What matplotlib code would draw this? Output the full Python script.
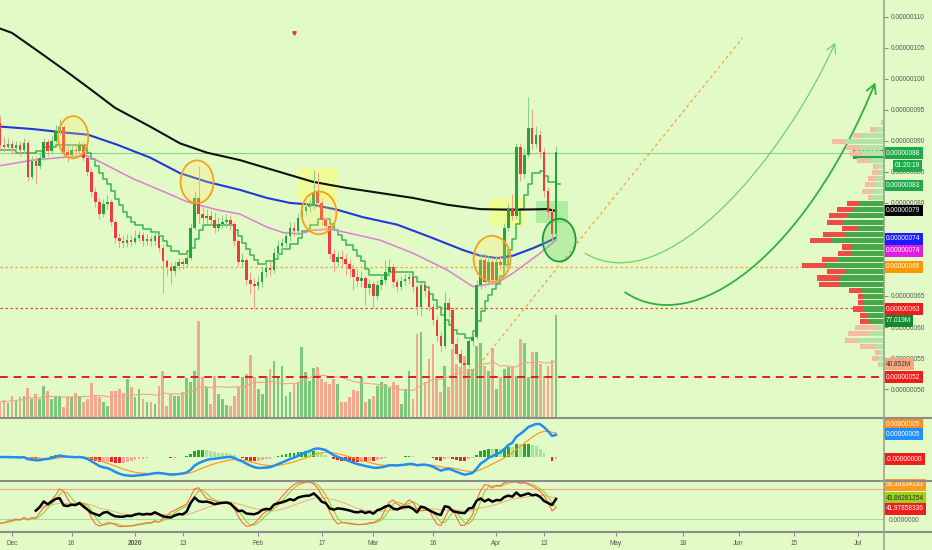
import matplotlib
matplotlib.use("Agg")
import matplotlib.pyplot as plt
import matplotlib.dates as mdates
from matplotlib.patches import Ellipse, Rectangle, FancyArrowPatch
from matplotlib.path import Path
from matplotlib.lines import Line2D
from matplotlib.ticker import FuncFormatter
from matplotlib.transforms import blended_transform_factory
import numpy as np
import pandas as pd

plt.rcParams['font.family'] = ['Liberation Sans', 'DejaVu Sans']

BG = '#e2fbc6'

# ---------------- data (prices in satoshi, 1e-8 BTC) ----------------
first_day = '2019-11-28'
first_open = 92.9
closes = [89.4, 89.0, 89.5,
          88.8, 89.3, 88.6, 89.6, 84.2, 86.8, 86.0, 87.3, 89.8, 88.4,
          90.0, 91.6, 92.2, 88.2, 87.7, 88.5, 88.3, 89.4, 87.3, 85.0,
          81.8, 80.2, 78.2, 79.8, 80.2, 77.0, 74.3, 73.8, 73.6, 74.1,
          73.7, 74.4, 74.8, 73.9, 74.2, 73.8, 74.6, 72.8, 70.6, 69.6,
          69.0, 69.8, 70.4, 70.1, 71.2, 76.0, 80.8, 78.2, 77.6, 77.9,
          77.2, 76.0, 76.6, 77.0, 77.3, 76.6, 73.8, 70.5, 70.8, 67.6,
          67.0, 66.6, 67.3, 68.9, 69.5, 69.2, 72.0, 73.0, 73.6, 74.6,
          76.0, 75.4, 77.6, 78.7, 79.3, 79.6, 81.8, 80.0, 77.2, 76.2,
          71.8, 70.4, 71.3, 70.9, 70.2, 69.3, 68.0, 67.4, 67.9, 66.3,
          66.9, 65.0, 66.8, 67.5, 68.9, 69.6, 67.2, 66.4, 67.4, 67.8,
          68.0, 66.4, 63.2, 66.8, 65.8, 63.3, 61.2, 58.6, 57.0, 63.8,
          62.8, 57.2, 55.6, 54.2, 53.8, 57.8, 58.4, 66.8, 70.8, 67.2,
          70.5, 67.6, 70.4, 70.0, 76.0, 79.2, 77.9, 89.0, 84.6, 87.8,
          92.0, 89.5, 91.0, 88.2, 82.0, 78.6, 75.0, 88.2]
highs = [94.0, 90.6, 90.4,
         90.2, 90.0, 89.9, 90.5, 90.2, 87.6, 87.5, 88.2, 90.4, 90.3,
         90.8, 92.5, 93.6, 92.6, 89.2, 89.3, 89.4, 90.0, 89.8, 87.9,
         85.6, 82.6, 80.8, 80.6, 81.3, 80.7, 77.4, 75.2, 74.8, 75.0,
         74.9, 75.6, 75.5, 75.3, 75.0, 74.9, 75.3, 75.0, 73.3, 71.0,
         70.4, 70.6, 71.2, 71.0, 72.0, 76.8, 82.0, 86.0, 79.4, 79.0,
         78.8, 78.6, 77.8, 78.0, 78.2, 78.0, 76.9, 74.2, 72.0, 71.2,
         68.8, 67.9, 68.2, 69.6, 70.4, 70.6, 72.8, 74.0, 74.4, 75.4,
         76.9, 77.0, 78.4, 79.8, 80.2, 80.6, 85.3, 85.0, 80.6, 77.8,
         76.6, 72.6, 72.2, 72.4, 71.8, 71.0, 70.0, 69.4, 69.0, 68.4,
         67.8, 67.4, 67.6, 68.6, 70.8, 71.0, 70.2, 67.8, 68.2, 68.6,
         69.0, 68.4, 66.9, 67.3, 67.2, 66.2, 63.8, 61.8, 59.3, 65.6,
         64.6, 63.2, 58.4, 56.4, 55.0, 58.6, 59.4, 67.6, 71.8, 72.0,
         71.4, 71.0, 71.6, 71.5, 76.8, 80.0, 81.4, 89.6, 89.6, 88.8,
         97.1, 95.2, 92.4, 91.8, 88.8, 82.6, 79.2, 89.2]
lows = [88.8, 88.2, 88.5,
        87.9, 88.3, 87.6, 88.0, 83.5, 83.9, 83.0, 85.4, 86.9, 87.5,
        87.9, 89.6, 91.0, 87.4, 86.6, 87.1, 87.5, 87.9, 86.8, 84.3,
        81.0, 79.3, 77.4, 77.7, 79.0, 76.2, 73.6, 72.8, 72.7, 72.9,
        73.0, 73.3, 73.8, 73.1, 73.2, 73.0, 73.2, 72.2, 65.5, 68.2,
        67.0, 68.4, 69.2, 69.4, 69.7, 70.8, 75.6, 76.8, 76.4, 76.8,
        76.4, 75.2, 75.4, 75.9, 76.1, 75.6, 73.0, 69.8, 69.6, 66.8,
        65.4, 63.0, 65.9, 66.5, 68.0, 68.3, 68.7, 71.2, 72.3, 72.9,
        73.9, 74.6, 74.9, 77.0, 78.1, 78.6, 79.0, 79.4, 76.5, 75.3,
        71.0, 68.8, 69.8, 69.6, 68.4, 68.0, 66.0, 66.6, 66.5, 63.6,
        65.4, 63.2, 64.4, 66.0, 67.0, 68.3, 66.5, 65.6, 65.9, 66.8,
        67.0, 65.7, 62.0, 61.8, 64.9, 62.6, 60.4, 57.8, 56.0, 56.6,
        61.6, 56.4, 54.8, 53.2, 52.3, 53.4, 57.0, 58.0, 66.2, 66.4,
        66.8, 66.9, 67.2, 69.2, 69.6, 75.4, 77.2, 77.4, 83.6, 84.0,
        87.4, 88.6, 88.8, 87.2, 81.0, 77.4, 74.0, 74.4]
volumes = [15, 17, 14,
           21, 16, 20, 21, 29, 18, 23, 18, 31, 26,
           18, 21, 20, 10, 20, 20, 24, 21, 15, 18,
           34, 22, 20, 15, 11, 26, 26, 28, 24, 38,
           30, 20, 28, 18, 15, 15, 13, 31, 46, 11,
           23, 21, 21, 25, 39, 35, 46, 96, 40, 30,
           13, 41, 23, 18, 12, 11, 21, 30, 40, 43,
           62, 40, 28, 23, 41, 48, 56, 41, 51, 21,
           25, 33, 35, 70, 45, 36, 49, 50, 38, 35,
           33, 38, 33, 15, 15, 20, 27, 26, 40, 15,
           18, 21, 31, 35, 33, 29, 35, 32, 13, 28,
           46, 18, 83, 85,
           35, 58, 73, 38, 25, 51, 30, 68, 53, 50,
           61, 48, 48, 71, 74, 51, 46, 69, 28, 40,
           48, 50, 51, 41, 78, 74, 40, 65, 65, 53,
           41, 51, 57, 102]

# moving averages (day offset from 2019-12-01, price)
ma200_days = [-3, 0, 5.8, 13.9, 19.6, 26, 34.8, 42.3, 49.1, 57.4, 64.2, 70, 75.8,
              84.4, 92.7, 101, 109.6, 117.9, 126.2, 134.8, 137]
ma200_vals = [108.1, 107.4, 104.8, 101.1, 98.4, 95.3, 92.3, 89.6, 88.1, 86.9, 85.6,
              84.5, 83.4, 82.4, 81.6, 80.8, 79.7, 79.0, 78.9, 79.0, 78.7]
blue_days = [-3, 5.3, 13.9, 19.1, 26.4, 34.8, 42.3, 49.1, 57.4, 64.2, 70, 75.8, 81.9,
             88.4, 97, 105.3, 113.6, 117.9, 122.2, 126.2, 131.2, 134.8, 137]
blue_vals = [92.3, 91.9, 91.3, 91.0, 89.4, 87.3, 84.8, 83.4, 82.1, 80.8, 80.0, 79.7,
             78.9, 77.7, 76.5, 74.5, 72.4, 71.5, 71.1, 71.5, 72.7, 73.7, 74.4]
pink_days = [-3, 5.3, 13.9, 18.9, 22.2, 30.5, 39, 44, 51.6, 57.4, 64.2, 68.3, 72.5,
             75.8, 80.1, 84.4, 92.7, 101, 109.6, 116.1, 122.2, 126.2, 133, 137]
pink_vals = [86.0, 86.9, 87.4, 87.6, 86.6, 83.9, 81.6, 80.2, 78.9, 78.2, 76.1, 75.2,
             75.0, 75.6, 75.8, 75.2, 74.0, 71.9, 69.2, 66.5, 67.1, 68.7, 71.9, 74.0]
# green trailing step line
step_days = [-3, 1, 6, 8, 11, 19, 20, 21, 22, 23, 24, 25, 26, 27, 28, 29, 30, 31, 33,
             35, 37, 38, 39, 40, 42, 44, 45, 46, 47, 48, 56, 57, 58, 59, 60, 61, 62,
             64, 66, 67, 68, 70, 72, 73, 75, 77, 80, 81, 82, 83, 84, 86, 87, 88, 89,
             90, 95, 101, 102, 104, 105, 106, 107, 108, 109, 110, 111, 112, 114, 116,
             117, 118, 119, 120, 121, 122, 123, 124, 125, 126, 127, 128, 129, 130,
             131, 133, 134, 135, 137, 138]
step_vals = [88.6, 88.0, 88.4, 89.0, 89.4, 88.0, 87.0, 86.0, 84.8, 83.8, 83.0, 82.0,
             80.6, 79.6, 78.6, 77.8, 77.0, 76.4, 75.8, 75.3, 74.6, 73.8, 73.0, 72.3,
             71.8, 72.2, 72.8, 74.2, 75.6, 76.4, 75.6, 74.6, 73.6, 72.6, 71.6, 70.8,
             70.2, 70.6, 71.0, 71.8, 72.6, 73.4, 74.4, 75.4, 76.4, 77.4, 76.6, 75.6,
             74.8, 74.0, 73.2, 72.4, 71.4, 70.6, 69.4, 68.4, 68.8, 68.0, 67.2, 66.4,
             65.4, 64.4, 63.2, 62.0, 61.2, 60.4, 59.6, 58.8, 58.2, 59.4, 61.0, 62.6,
             64.2, 65.2, 66.2, 67.0, 68.2, 70.0, 72.4, 74.2, 76.6, 79.0, 81.2, 83.0,
             84.8, 85.2, 84.4, 83.4, 83.0, 83.0]

# volume profile (row price, total, up part)
prof_prices = [53.9 + i for i in range(40)]
prof_total = [6, 12, 9, 24, 39, 36, 29, 24, 24, 31, 26, 26, 35, 65, 67, 57, 82, 62, 46,
              42, 74, 61, 42, 57, 55, 47, 37, 16, 22, 19, 16, 12, 11, 27, 34, 38, 52,
              31, 14, 3]
prof_up = [4, 6, 5, 9, 26, 14, 6, 14, 16, 21, 20, 20, 22, 45, 44, 38, 58, 46, 32, 32,
           52, 39, 26, 41, 37, 31, 24, 12, 12, 9, 9, 4, 6, 14, 22, 24, 39, 22, 9, 2]
value_area = (60.5, 80.4)

# horizontal levels
last_price = 88.0
level_orange = 69.6
level_red_dot = 63.0
level_red_dash = 51.9

x_tick_dates = ['2019-12-01', '2019-12-16', '2020-01-01', '2020-01-13', '2020-02-01',
                '2020-02-17', '2020-03-01', '2020-03-16', '2020-04-01', '2020-04-13',
                '2020-05-01', '2020-05-18', '2020-06-01', '2020-06-15', '2020-07-01']
x_tick_labels = ['Dec', '16', '2020', '13', 'Feb', '17', 'Mar', '16', 'Apr', '13',
                 'May', '18', 'Jun', '15', 'Jul']
hidden_price_ticks = (70, 75)

# ---------------- derived ----------------
n = len(closes)
opens = [first_open] + closes[:-1]
dates = pd.date_range(first_day, periods=n, freq='D')
xd = mdates.date2num(dates)
base = mdates.date2num(pd.Timestamp('2019-12-01'))
o = np.array(opens); c = np.array(closes); h = np.array(highs); l = np.array(lows)
up = c >= o

s = pd.Series(closes)
ema12 = s.ewm(span=12, adjust=False).mean()
ema26 = s.ewm(span=26, adjust=False).mean()
macd = ema12 - ema26
sig = macd.ewm(span=9, adjust=False).mean()
hist = (macd - sig).values

delta = s.diff().fillna(0)
au = delta.clip(lower=0).ewm(alpha=1/14, adjust=False).mean()
ad = (-delta.clip(upper=0)).ewm(alpha=1/14, adjust=False).mean()
rsi = 100 - 100 / (1 + au / ad.replace(0, np.nan))
rsi.iloc[:9] = np.nan          # warm-up period not shown
hh = pd.Series(highs).rolling(14, min_periods=1).max()
ll = pd.Series(lows).rolling(14, min_periods=1).min()
k_raw = 100 * (s - ll) / (hh - ll)
k_s = k_raw.rolling(3, min_periods=1).mean()
d_s = k_s.rolling(3, min_periods=1).mean()
rsi_ma = rsi.rolling(10, min_periods=1).mean()

# ---------------- figure ----------------
W, H = 932, 550
fig = plt.figure(figsize=(W / 100, H / 100), dpi=100, facecolor=BG)


def rect(x0, y0, x1, y1):
    return [x0 / W, 1 - y1 / H, (x1 - x0) / W, (y1 - y0) / H]


ax_vol = fig.add_axes(rect(0, 0, 884, 417), facecolor='none')
ax = fig.add_axes(rect(0, 0, 884, 417), facecolor='none', sharex=ax_vol)
ax_prof = fig.add_axes(rect(700, 0, 884, 417), facecolor='none', sharey=ax)
ax_m = fig.add_axes(rect(0, 419, 884, 480), facecolor='none', sharex=ax_vol)
ax_s = fig.add_axes(rect(0, 482, 884, 532), facecolor='none', sharex=ax_vol)

xmin, xmax = base - 3.02, base + 219.6
for a in (ax_vol, ax, ax_m, ax_s):
    for sp in a.spines.values():
        sp.set_visible(False)
ax_vol.set_xlim(xmin, xmax)

# volume
vol_col = np.where(up, '#7dc97a', '#f2a78f')
ax_vol.bar(xd, volumes, width=0.7, color=vol_col, linewidth=0)
ax_vol.plot(xd, pd.Series(volumes).rolling(20, min_periods=1).mean(), color='#f0a585', lw=0.8)
ax_vol.set_ylim(0, 417)
ax_vol.set_yticks([]); ax_vol.tick_params(axis='x', bottom=False, labelbottom=False)

# main price pane
ax.set_ylim(45.5, 112.7)
ax.axhline(last_price, color='#86d886', lw=0.8, zorder=1)
ax.axhline(level_orange, color='#f3a43a', lw=0.9, ls=(0, (2, 2)), zorder=1)
ax.axhline(level_red_dot, color='#e84a3a', lw=0.9, ls=(0, (2, 2)), zorder=1)
ax.axhline(level_red_dash, color='#e11d1d', lw=1.4, ls=(0, (4, 3)), zorder=1)

# rectangles
ax.add_patch(Rectangle((base + 72.0, 80.5), 10.1, 5.1, fc='#ffff5a', alpha=0.45, ec='none', zorder=1))
ax.add_patch(Rectangle((base + 120.2, 76.3), 9.3, 4.5, fc='#ffff5a', alpha=0.45, ec='none', zorder=1))
ax.add_patch(Rectangle((base + 132.0, 76.8), 8.0, 3.5, fc='#7ee07e', alpha=0.5, ec='none', zorder=1))

ax.plot(base + np.array(step_days), step_vals, drawstyle='steps-post', color='#3cb64a', lw=1.1, zorder=2)
ax.plot(base + np.array(ma200_days), ma200_vals, color='#111111', lw=1.5, zorder=3)
ax.plot(base + np.array(blue_days), blue_vals, color='#1f3ad8', lw=1.5, zorder=3)
ax.plot(base + np.array(pink_days), pink_vals, color='#d97fd2', lw=1.1, zorder=3)

# candles
wick_col = np.where(up, '#86d28c', '#f4a08f')
body_col = np.where(up, '#27a23d', '#ee3b3b')
ax.vlines(xd, l, h, colors=wick_col, lw=0.8, zorder=4)
ax.bar(xd, np.maximum(np.abs(c - o), 0.15), bottom=np.minimum(o, c), width=0.66,
       color=body_col, linewidth=0, zorder=5)

# circles
for (cd, cp, w, hh_) in [(15.4, 90.6, 7.6, 6.8), (46.6, 83.4, 8.3, 6.9),
                         (77.3, 78.4, 8.8, 6.9), (120.9, 71.0, 9.3, 7.4)]:
    ax.add_patch(Ellipse((base + cd, cp), w, hh_, fc='#ffe566', alpha=0.25, ec='none', zorder=6))
    ax.add_patch(Ellipse((base + cd, cp), w, hh_, fc='none', ec='#f4a21c', lw=1.3, zorder=6))
ax.add_patch(Ellipse((base + 137.8, 74.0), 8.3, 6.9, fc='#5ed35e', alpha=0.3, ec='none', zorder=6))
ax.add_patch(Ellipse((base + 137.8, 74.0), 8.3, 6.9, fc='none', ec='#1c9c36', lw=1.3, zorder=6))

# trend line, marker, arrows
ax.plot([base + 114.6, base + 184.0], [51.5, 106.6], color='#f3a43a', lw=0.9,
        ls=(0, (2.5, 2.5)), zorder=2)
ax.plot(base + 71, 107.4, marker='v', color='#e53935', ms=2.5, zorder=6)

arrow_specs = [
    ([(144.3, 71.9), (165, 64), (195, 88), (207.3, 105.8)], '#6fd06f', 0.9),
    ([(154.4, 65.6), (172, 58), (200, 72), (217.4, 99.4)], '#2fb23c', 1.3),
]
for pts, col, lw in arrow_specs:
    verts = [(base + px, py) for px, py in pts]
    pth = Path(verts, [Path.MOVETO, Path.CURVE4, Path.CURVE4, Path.CURVE4])
    ax.add_patch(FancyArrowPatch(path=pth, arrowstyle='->,head_length=0.45,head_width=0.25',
                                 mutation_scale=14, color=col, lw=lw, zorder=6))

ax.yaxis.tick_right()
ax.set_yticks(np.arange(50, 111, 5))
ax.yaxis.set_major_formatter(FuncFormatter(
    lambda v, p: '' if round(v) in hidden_price_ticks else f"{v * 1e-8:.8f}"))
ax.tick_params(axis='y', length=3, color='#8a8a8a', labelsize=4.7, labelcolor='#555555', pad=2)
ax.tick_params(axis='x', bottom=False, labelbottom=False)

# volume profile
ax_prof.set_xlim(184, 0)
ax_prof.axis('off')
pt = np.array(prof_total); pu = np.array(prof_up); pp = np.array(prof_prices)
inva = (pp >= value_area[0]) & (pp <= value_area[1])
ax_prof.barh(pp, pu, height=0.82, left=0, color=np.where(inva, '#46a84a', '#b7e3a4'), linewidth=0)
ax_prof.barh(pp, pt - pu, height=0.82, left=pu, color=np.where(inva, '#ee4c46', '#f4bca4'), linewidth=0)

# price labels
tr = blended_transform_factory(ax.transAxes, ax.transData)
x_lab = 886 / 884
PAD = 'square,pad=0.36'
main_labels = [('0.00000088', 88.0, '#1faa4a', 'white'), ('0.00000083', 82.8, '#1faa4a', 'white'),
               ('0.00000079', 78.8, '#000000', 'white'), ('0.00000074', 74.2, '#1c1cff', 'white'),
               ('0.00000074', 72.3, '#e21ee2', 'white'), ('0.00000069', 69.7, '#ff9800', 'white'),
               ('0.00000063', 62.9, '#f01d1d', 'white'), ('77.019M', 61.0, '#13892e', 'white'),
               ('40.852M', 54.0, '#f5a77c', '#3a3a3a'), ('0.00000052', 51.9, '#f01d1d', 'white')]
for txt, py, fc, tc in main_labels:
    ax.text(x_lab, py, txt, transform=tr, ha='left', va='center', fontsize=4.7, color=tc,
            clip_on=False, zorder=10, bbox=dict(boxstyle=PAD, fc=fc, ec='none'))
ax.text(895 / 884, 86.0, '01:20:19', transform=tr, ha='left', va='center', fontsize=4.7,
        color='white', clip_on=False, zorder=10, bbox=dict(boxstyle=PAD, fc='#1faa4a', ec='none'))
ax.text(882 / 884, 88.0, 'DGBBTC', transform=tr, ha='right', va='center', fontsize=4.7,
        color='white', clip_on=False, zorder=10, bbox=dict(boxstyle=PAD, fc='#1faa4a', ec='none'))

# MACD pane
ax_m.set_ylim(-4.8, 7.9)
hc = []
for i, v in enumerate(hist):
    prev = hist[i - 1] if i > 0 else v
    if v >= 0:
        hc.append('#1daa2e' if v >= prev else '#a3e59c')
    else:
        hc.append('#f22020' if v < prev else '#f5a897')
ax_m.bar(xd, hist, width=0.7, color=hc, linewidth=0)
ax_m.plot(xd, sig, color='#ff9a2a', lw=0.9)
ax_m.plot(xd, macd, color='#1e8ff0', lw=1.8)
ax_m.set_yticks([]); ax_m.tick_params(axis='x', bottom=False, labelbottom=False)
for txt, fy, fc in [('0.00000005', 0.918, '#ff8c1a'), ('0.00000005', 0.754, '#1e90ff'),
                    ('-0.00000000', 0.344, '#f01d1d')]:
    ax_m.text(x_lab, fy, txt, transform=ax_m.transAxes, ha='left', va='center', fontsize=4.7,
              color='white', clip_on=False, bbox=dict(boxstyle=PAD, fc=fc, ec='none'))

# Oscillator pane
ax_s.set_ylim(-6, 94)
ax_s.axhline(80, color='#f0a58c', lw=0.8)
ax_s.axhline(20, color='#9fe09f', lw=0.8)
ax_s.plot(xd, rsi_ma, color='#f2ad7c', lw=0.7)
ax_s.plot(xd, d_s, color='#9acd32', lw=0.8)
ax_s.plot(xd, k_s, color='#ff6a3a', lw=0.8)
ax_s.plot(xd, rsi, color='#000000', lw=1.8)
ax_s.set_yticks([])
for txt, fy, fc, tc in [('59.30334133', 0.94, '#ff9a1f', 'white'),
                        ('43.86281254', 0.68, '#9bd21a', '#2b2b2b'),
                        ('41.97858336', 0.46, '#f01d1d', 'white')]:
    ax_s.text(x_lab, fy, txt, transform=ax_s.transAxes, ha='left', va='center', fontsize=4.7,
              color=tc, clip_on=False, bbox=dict(boxstyle=PAD, fc=fc, ec='none'))
ax_s.text(889 / 884, 0.22, '0.0000000', transform=ax_s.transAxes, ha='left', va='center',
          fontsize=4.7, color='#555555', clip_on=False)

ax_s.set_xticks([mdates.date2num(pd.Timestamp(t)) for t in x_tick_dates])
ax_s.set_xticklabels(x_tick_labels)
for lab in ax_s.get_xticklabels():
    if lab.get_text() == '2020':
        lab.set_fontweight('bold')
ax_s.tick_params(axis='x', direction='out', length=3, color='#8a8a8a', labelsize=4.7,
                 labelcolor='#555555', pad=3)
ax_s.set_xlim(xmin, xmax)

# separators and price-axis line
for yy in (418, 481, 532):
    fig.add_artist(Line2D([0, 1], [1 - yy / H] * 2, transform=fig.transFigure,
                          color='#8c8c8c', lw=1.5))
fig.add_artist(Line2D([884 / W] * 2, [0, 1], transform=fig.transFigure, color='#9aa590', lw=1.2))

fig.savefig('out.png', dpi=100, facecolor=BG)
